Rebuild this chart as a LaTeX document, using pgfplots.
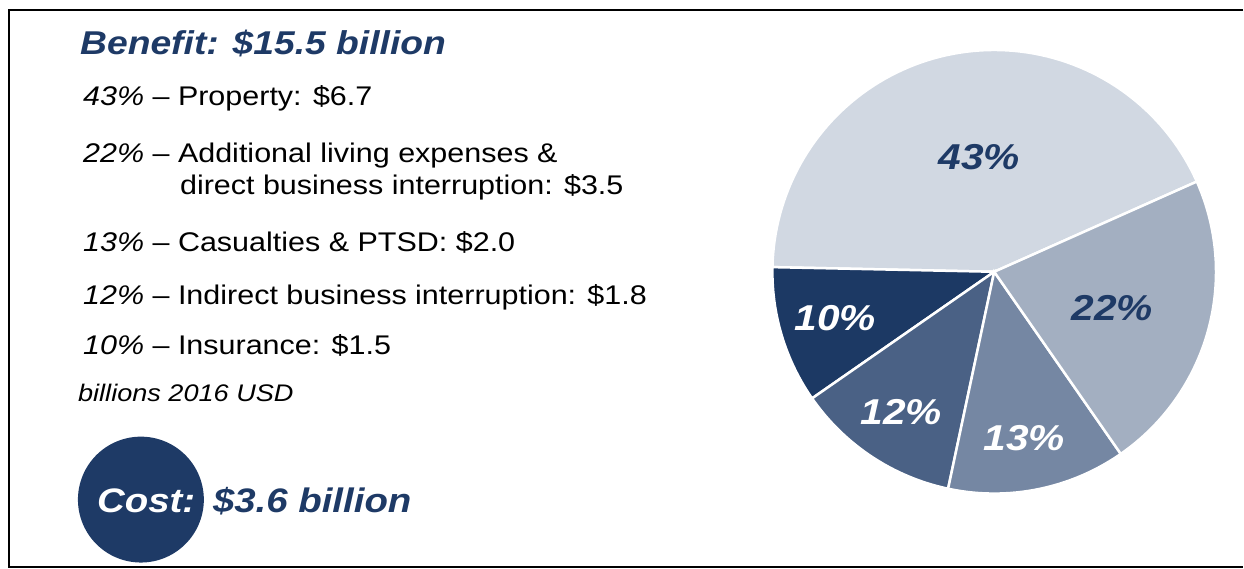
\documentclass[border=0pt]{standalone}
\usepackage{pgfplots}
\pgfplotsset{compat=1.18}
\usepackage{fontspec}
\setmainfont{Liberation Sans}[FakeStretch=1.13]
\definecolor{navy}{HTML}{1E3A66}
\definecolor{cA}{HTML}{D1D8E2}
\definecolor{cB}{HTML}{1C3964}
\definecolor{cC}{HTML}{4A6185}
\definecolor{cD}{HTML}{7587A3}
\definecolor{cE}{HTML}{A3AFC1}
% shares (percent), counter-clockwise from the start angle
\def\shA{43}\def\shB{10}\def\shC{12}\def\shD{13}\def\shE{22}
\pgfmathsetmacro\aA{24}
\pgfmathsetmacro\aB{\aA+3.6*\shA}
\pgfmathsetmacro\aC{\aB+3.6*\shB}
\pgfmathsetmacro\aD{\aC+3.6*\shC}
\pgfmathsetmacro\aE{\aD+3.6*\shD}
\pgfmathsetmacro\aF{\aE+3.6*\shE}
\newcommand\ctrx{995}
\newcommand\ctry{297}
\newcommand\rad{222}
\begin{document}
\begin{tikzpicture}
\begin{axis}[width=1244pt, height=569pt, scale only axis,
  xmin=0, xmax=1244, ymin=0, ymax=569, hide axis, clip=false]
\path (rel axis cs:0,0) rectangle (rel axis cs:1,1);
% frame
\addplot[black, line width=2pt] coordinates {(1244,559) (9,559) (9,2) (1244,2)};
% pie wedges
\addplot[fill=cA, draw=white, line width=2.5pt, domain=\aA:\aB, samples=90, variable=\t]
  ({\ctrx+\rad*cos(\t)}, {\ctry+\rad*sin(\t)}) -- (axis cs:\ctrx,\ctry) -- cycle;
\addplot[fill=cB, draw=white, line width=2.5pt, domain=\aB:\aC, samples=30, variable=\t]
  ({\ctrx+\rad*cos(\t)}, {\ctry+\rad*sin(\t)}) -- (axis cs:\ctrx,\ctry) -- cycle;
\addplot[fill=cC, draw=white, line width=2.5pt, domain=\aC:\aD, samples=30, variable=\t]
  ({\ctrx+\rad*cos(\t)}, {\ctry+\rad*sin(\t)}) -- (axis cs:\ctrx,\ctry) -- cycle;
\addplot[fill=cD, draw=white, line width=2.5pt, domain=\aD:\aE, samples=30, variable=\t]
  ({\ctrx+\rad*cos(\t)}, {\ctry+\rad*sin(\t)}) -- (axis cs:\ctrx,\ctry) -- cycle;
\addplot[fill=cE, draw=white, line width=2.5pt, domain=\aE:\aF, samples=50, variable=\t]
  ({\ctrx+\rad*cos(\t)}, {\ctry+\rad*sin(\t)}) -- (axis cs:\ctrx,\ctry) -- cycle;
% pie labels
\begin{scope}[every node/.style={inner sep=0pt, font=\fontsize{36}{40}\selectfont\bfseries\itshape}]
\node[text=navy] at (axis cs:980,412) {\shA\%};
\node[text=navy] at (axis cs:1113,261) {\shE\%};
\node[text=white] at (axis cs:1025,131) {\shD\%};
\node[text=white] at (axis cs:902,157) {\shC\%};
\node[text=white] at (axis cs:836,251) {\shB\%};
\end{scope}
% cost circle
\addplot[fill=navy, draw=none, domain=0:360, samples=120, variable=\t]
  ({141+63*cos(\t)}, {69+63*sin(\t)}) -- cycle;
% left texts
\begin{scope}[every node/.style={inner sep=0pt, anchor=base west}]
\node[text=navy, font=\fontsize{33}{36}\selectfont\bfseries\itshape] at (axis cs:80,514) {Benefit: \$15.5 billion};
\node[font=\fontsize{27}{30}\selectfont] at (axis cs:83,463) {\textit{43\%} -- Property: \$6.7};
\node[font=\fontsize{27}{30}\selectfont] at (axis cs:83,406) {\textit{22\%} -- Additional living expenses \&};
\node[font=\fontsize{27}{30}\selectfont] at (axis cs:180,374) {direct business interruption: \$3.5};
\node[font=\fontsize{27}{30}\selectfont] at (axis cs:83,317) {\textit{13\%} -- Casualties \& PTSD: \$2.0};
\node[font=\fontsize{27}{30}\selectfont] at (axis cs:83,264) {\textit{12\%} -- Indirect business interruption: \$1.8};
\node[font=\fontsize{27}{30}\selectfont] at (axis cs:83,214) {\textit{10\%} -- Insurance: \$1.5};
\node[font=\fontsize{24}{28}\selectfont\itshape] at (axis cs:78,167) {billions 2016 USD};
\node[text=white, font=\fontsize{34}{38}\selectfont\bfseries\itshape] at (axis cs:97,56) {Cost:};
\node[text=navy, font=\fontsize{34}{38}\selectfont\bfseries\itshape] at (axis cs:213,56) {\$3.6 billion};
\end{scope}
\end{axis}
\end{tikzpicture}
\end{document}
